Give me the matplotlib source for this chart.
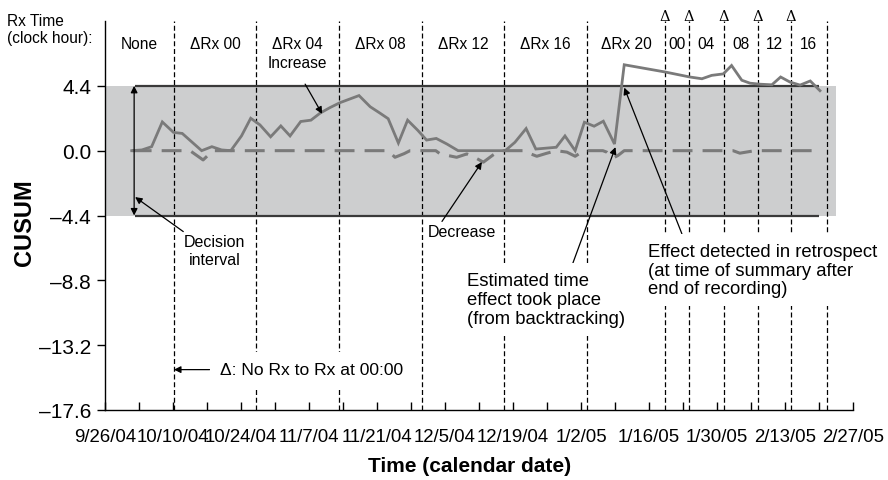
import datetime as dt
import matplotlib
matplotlib.use("Agg")
import matplotlib.pyplot as plt
import matplotlib.dates as mdates
from matplotlib.ticker import FixedLocator, FuncFormatter
import numpy as np

plt.rcParams['font.family'] = ['Liberation Sans', 'DejaVu Sans']

# ---------------- data ----------------
start_date = dt.datetime(2004, 9, 26)
end_days = 154  # 2/27/05

# upper CUSUM (solid), days since 9/26/04
upper_days = [5.5, 7.6, 9.6, 11.8, 14.1, 15.9, 19.9, 22.0, 24.0, 25.9, 28.1, 30.0, 31.9, 34.1,
              36.2, 38.1, 40.3, 42.4, 44.3, 46.3, 48.4, 52.3, 54.6, 56.6, 58.3, 60.4, 62.3, 64.4,
              66.2, 68.2, 70.4, 72.7, 82.4, 84.4, 86.7, 88.7, 92.9, 94.7, 96.8, 98.7, 100.7,
              102.6, 104.9, 106.9, 115.3, 120.4, 122.9, 124.9, 127.3, 129.0, 131.1, 132.8,
              134.9, 137.3, 139.1, 141.0, 143.1, 145.2, 147.2]
upper_vals = [0.0, 0.05, 0.27, 1.95, 1.24, 1.17, 0.0, 0.27, 0.05, 0.0, 1.0, 2.2, 1.75, 0.94,
              1.68, 1.0, 1.98, 2.07, 2.55, 2.92, 3.26, 3.74, 2.98, 2.55, 2.17, 0.52, 2.07, 1.38,
              0.72, 0.83, 0.45, 0.0, 0.0, 0.57, 1.5, 0.11, 0.23, 1.0, 0.0, 1.93, 1.66, 2.0,
              0.45, 5.83, 5.34, 5.0, 4.88, 5.11, 5.21, 5.78, 4.78, 4.58, 4.51, 4.47, 5.0,
              4.66, 4.45, 4.73, 4.07]

# lower CUSUM (dashed)
lower_days = [5.5, 17.5, 20.2, 22.2, 58.3, 59.7, 61.6, 62.8, 68.1, 69.0, 72.4, 74.5, 75.8,
              77.9, 79.9, 81.3, 86.5, 87.5, 88.9, 90.9, 92.9, 95.1, 96.8, 98.6, 102.5, 103.3,
              104.6, 105.6, 106.9, 129.3, 130.7, 133.8, 147.2]
lower_vals = [0, 0, -0.63, 0, 0, -0.45, -0.2, 0, 0, -0.22, -0.45, -0.22, -0.4, -0.78, -0.29,
              0, 0, -0.2, -0.38, -0.18, 0, -0.1, -0.38, 0, 0, -0.1, -0.5, -0.33, 0, 0, -0.17,
              0, 0]

decision_limit = 4.4

# times of Rx changes (days since 9/26/04)
rx_change_days = [14.2, 31.1, 48.2, 65.3, 82.2, 99.2, 115.3, 120.2, 127.4, 134.4, 141.2, 148.6]
delta_marked = [115.3, 120.2, 127.4, 134.4, 141.2]
period_labels = ["None", "\u0394Rx 00", "\u0394Rx 04", "\u0394Rx 08", "\u0394Rx 12",
                 "\u0394Rx 16", "\u0394Rx 20", "00", "04", "08", "12", "16"]

ytick_vals = [4.4, 0.0, -4.4, -8.8, -13.2, -17.6]
ytick_labels = ["4.4", "0.0", "\u20134.4", "\u20138.8", "\u201313.2", "\u201317.6"]

# ---------------- figure ----------------
W, H = 888, 481
fig = plt.figure(figsize=(W / 100, H / 100), dpi=100)
ax = fig.add_axes([105 / W, 1 - 411 / H, (853 - 105) / W, (411 - 22) / H])

x0 = mdates.date2num(start_date)
X = lambda d: x0 + np.asarray(d, dtype=float)

ax.set_xlim(X(0), X(end_days))
ax.set_ylim(-17.6, 8.8)

# decision band
ax.fill_between([X(0.3), X(150.5)], -decision_limit, decision_limit,
                color='#cdcecf', lw=0, zorder=0)
ax.hlines([decision_limit, -decision_limit], X(6.2), X(147.0), color='#3a3a3a', lw=1.6, zorder=3)

# Rx change lines
for d in rx_change_days:
    ax.plot([X(d), X(d)], [-17.6, 8.8], color='black', lw=0.9,
            linestyle=(0, (4, 2.2)), zorder=2, clip_on=False)

# Data lines
ax.plot(X(upper_days), upper_vals, color='#7a7a7a', lw=2.0, zorder=4, solid_joinstyle='miter')
ld, = ax.plot(X(lower_days), lower_vals, color='#7a7a7a', lw=2.2, zorder=4)
ld.set_dashes([6.5, 3.3])

# period labels
bounds = [0.0] + rx_change_days
for i, lab in enumerate(period_labels):
    xm = (bounds[i] + bounds[i + 1]) / 2
    ax.text(X(xm), 7.3, lab, ha='center', va='center', fontsize=11.2, zorder=5)
for d in delta_marked:
    ax.text(X(d), 9.15, "\u0394", ha='center', va='center', fontsize=10.5,
            family=['DejaVu Serif'], clip_on=False)

fig.text(7 / W, 1 - 30 / H, "Rx Time\n(clock hour):", ha='left', va='center', fontsize=11.2,
         linespacing=1.25)

arrow_kw = dict(arrowstyle='-|>', color='black', lw=0.9, mutation_scale=10,
                shrinkA=0, shrinkB=0)

# double arrow showing decision interval
ax.annotate('', xy=(X(6.0), 4.4), xytext=(X(6.0), -4.4),
            arrowprops=dict(arrowstyle='<|-|>', color='black', lw=0.9, mutation_scale=10,
                            shrinkA=0, shrinkB=0), zorder=5)

ax.annotate('Decision\ninterval', xy=(X(6.2), -3.15), xytext=(X(22.6), -6.8),
            ha='center', va='center', fontsize=11.5, linespacing=1.25,
            arrowprops=dict(arrow_kw, relpos=(0.05, 1.0)), zorder=5)

ax.annotate('Increase', xy=(X(44.7), 2.5), xytext=(X(39.6), 5.95),
            ha='center', va='center', fontsize=11.2,
            arrowprops=dict(arrow_kw, relpos=(0.5, 0.0), shrinkA=9), zorder=5)

ax.annotate('Decrease', xy=(X(77.6), -0.77), xytext=(X(73.5), -5.5),
            ha='center', va='center', fontsize=11.5,
            arrowprops=dict(arrow_kw, relpos=(0.18, 1.0)), zorder=5)

wbox = dict(boxstyle='square,pad=0.5', fc='white', ec='none')
ax.annotate('Estimated time\neffect took place\n(from backtracking)', xy=(X(105.1), 0.24),
            xytext=(X(74.5), -10.1), ha='left', va='center', fontsize=13.3,
            linespacing=1.12, bbox=wbox,
            arrowprops=dict(arrow_kw, relpos=(0.64, 0.93)), zorder=6)

ax.annotate('Effect detected in retrospect\n(at time of summary after\nend of recording)',
            xy=(X(106.9), 4.28), xytext=(X(111.8), -8.1), ha='left', va='center',
            fontsize=13.3, linespacing=1.12, bbox=wbox,
            arrowprops=dict(arrow_kw, relpos=(0.17, 0.93)), zorder=6, annotation_clip=False)

ax.annotate('\u0394: No Rx to Rx at 00:00', xy=(X(rx_change_days[0]), -14.86),
            xytext=(X(23.7), -14.86), ha='left', va='center', fontsize=12.6,
            bbox=dict(boxstyle='square,pad=0.6', fc='white', ec='none'),
            arrowprops=dict(arrow_kw, relpos=(0.03, 0.5)), zorder=6)

# axes styling
for s in ['top', 'right']:
    ax.spines[s].set_visible(False)
ax.spines['left'].set_linewidth(1.0)
ax.spines['bottom'].set_linewidth(1.0)

ax.set_yticks(ytick_vals)
ax.set_yticklabels(ytick_labels, fontsize=15)
ax.tick_params(axis='y', direction='out', length=6, width=1, pad=4)

major = [X(d) for d in range(0, end_days + 1, 14)]
minor = [X(d) for d in range(0, end_days + 1, 7)]
ax.xaxis.set_major_locator(FixedLocator(major))
ax.xaxis.set_minor_locator(FixedLocator(minor))

def fmt(v, pos):
    d = mdates.num2date(v)
    return f"{d.month}/{d.day}/{d:%y}"

ax.xaxis.set_major_formatter(FuncFormatter(fmt))
ax.tick_params(axis='x', which='both', direction='in', length=6, width=1, pad=13, labelsize=13.4)

fig.text(25 / W, 1 - 223 / H, 'CUSUM', rotation=90, ha='center', va='center',
         fontsize=17, fontweight='bold')
fig.text(470 / W, 1 - 466 / H, 'Time (calendar date)', ha='center', va='center',
         fontsize=15, fontweight='bold')

fig.savefig('out.png', dpi=100)
